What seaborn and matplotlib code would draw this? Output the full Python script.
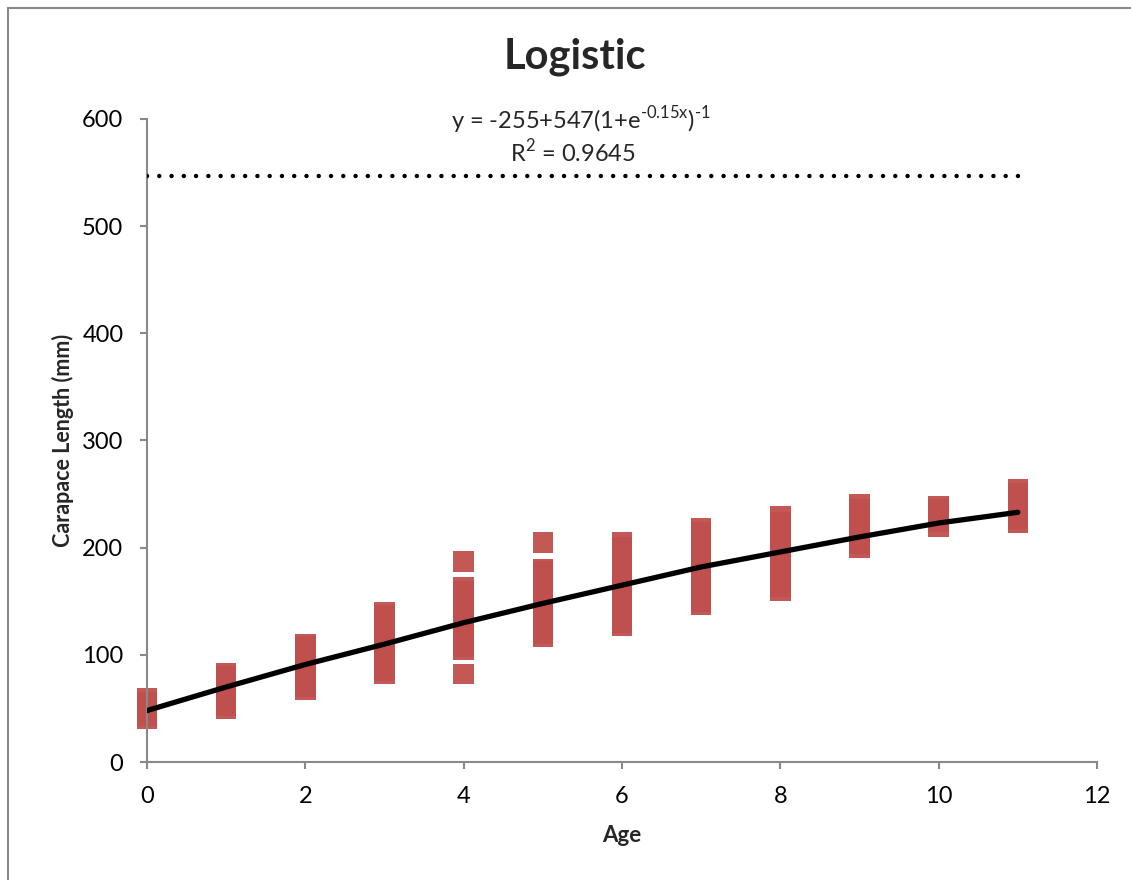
import matplotlib
matplotlib.use("Agg")
import matplotlib.pyplot as plt
import seaborn as sns
import pandas as pd
from matplotlib.lines import Line2D

# ---- data ----
age0 = [40, 43, 45, 47, 49, 50, 52, 54, 56, 59]
age1 = [50, 53, 56, 59, 62, 64, 66, 68, 70, 72, 75, 78, 80, 83]
age2 = [67, 70, 73, 76, 79, 82, 85, 88, 90, 93, 96, 99, 102, 105, 108, 110]
age3 = [82, 85, 88, 92, 95, 98, 101, 104, 107, 110, 113, 116, 119, 122, 125, 128, 131, 134, 137, 140]
age4 = [82, 105, 108, 111, 114, 117, 120, 123, 126, 129, 132, 135, 138, 141, 144, 147, 150, 153, 156, 159, 163, 187]
age5 = [117, 120, 123, 126, 130, 133, 136, 139, 142, 145, 148, 151, 154, 157, 160, 163, 166, 169, 172, 175, 178, 180, 205]
age6 = [127, 130, 134, 137, 140, 150, 153, 156, 160, 163, 166, 170, 173, 176, 180, 183, 186, 190, 193, 196, 200, 205]
age7 = [147, 150, 154, 158, 162, 166, 170, 174, 178, 182, 186, 190, 194, 198, 202, 206, 210, 214, 218]
age8 = [160, 164, 168, 172, 176, 180, 184, 188, 192, 196, 200, 204, 208, 212, 216, 220, 224, 229]
age9 = [200, 204, 208, 212, 216, 220, 224, 228, 232, 236, 240]
age10 = [220, 224, 228, 232, 236, 239]
age11 = [223, 227, 231, 235, 239, 243, 247, 251, 254]
observations = [age0, age1, age2, age3, age4, age5, age6, age7, age8, age9, age10, age11]

fit_age = [0, 1, 2, 3, 4, 5, 6, 7, 8, 9, 10, 11]
fit_length = [48, 70, 91, 110, 130, 148, 165, 182, 196, 210, 223, 233]

asymptote_age = [0, 11]
asymptote_length = [547, 547]

x_ticks = [0, 2, 4, 6, 8, 10, 12]
y_ticks = [0, 100, 200, 300, 400, 500, 600]

title = "Logistic"
x_label = "Age"
y_label = "Carapace Length (mm)"
equation = "y = -255+547(1+e$^{\\mathregular{\u20100.15x}}$)$^{\\mathregular{\u20101}}$"
r2_text = r"R$^{\mathregular{2}}$ = 0.9645"

# ---- build frames ----
rows = []
for a, vals in enumerate(observations):
    for v in vals:
        rows.append({"Age": a, "Length": v})
obs_df = pd.DataFrame(rows)
fit_df = pd.DataFrame({"Age": fit_age, "Length": fit_length})
asym_df = pd.DataFrame({"Age": asymptote_age, "Length": asymptote_length})

sns.set_theme(style="white")
plt.rcParams["font.family"] = ["Lato", "DejaVu Sans"]

fig = plt.figure(figsize=(11.31, 8.8), dpi=100)
ax = fig.add_axes([147 / 1131, 1 - 762 / 880, (1097 - 147) / 1131, (762 - 119) / 880])

red = "#C0504D"
sns.scatterplot(data=obs_df, x="Age", y="Length", ax=ax, marker="s", s=220,
                color=red, edgecolor="none", linewidth=0, alpha=0.95, zorder=2,
                clip_on=False)
sns.lineplot(data=fit_df, x="Age", y="Length", ax=ax, color="black", linewidth=3.8,
             zorder=3)
sns.lineplot(data=asym_df, x="Age", y="Length", ax=ax, color="black", linewidth=3.2,
             dashes=False, zorder=3)
ln = ax.lines[-1]
ln.set_linestyle((0, (0.01, 2.75)))
ln.set_dash_capstyle("round")

ax.set_xlim(0, 12)
ax.set_ylim(0, 600)
ax.set_xticks(x_ticks)
ax.set_yticks(y_ticks)
ax.set_xticklabels([str(t) for t in x_ticks])
ax.set_yticklabels([str(t) for t in y_ticks])
ax.tick_params(axis="both", which="major", direction="out", length=5, width=1.5,
               color="#898989", labelsize=17, labelcolor="black", pad=12)
ax.tick_params(left=True, bottom=True)
for side in ["top", "right"]:
    ax.spines[side].set_visible(False)
for side in ["left", "bottom"]:
    ax.spines[side].set_color("#898989")
    ax.spines[side].set_linewidth(1.5)
ax.grid(False)

ax.set_xlabel(x_label, fontsize=16, fontweight="bold", labelpad=13)
ax.set_ylabel(y_label, fontsize=15.5, fontweight="bold", labelpad=6)

fig.text(575 / 1131, 1 - 57 / 880, title, ha="center", va="center",
         fontsize=30, fontweight="bold")
fig.text(581 / 1131, 1 - 120 / 880, equation, ha="center", va="center", fontsize=17)
fig.text(573 / 1131, 1 - 152 / 880, r2_text, ha="center", va="center", fontsize=17)

# chart border (left and top edges visible)
fig.add_artist(Line2D([8 / 1131, 8 / 1131], [0, 1 - 8 / 880], transform=fig.transFigure,
                      color="#898989", linewidth=1.5))
fig.add_artist(Line2D([8 / 1131, 1], [1 - 8 / 880, 1 - 8 / 880], transform=fig.transFigure,
                      color="#898989", linewidth=1.5))

fig.savefig("out.png", dpi=100, facecolor="white")
